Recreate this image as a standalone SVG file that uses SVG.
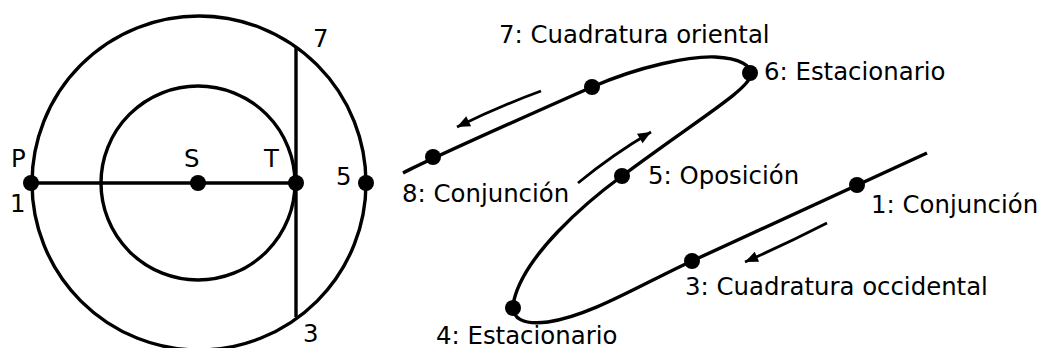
<svg xmlns="http://www.w3.org/2000/svg" width="1044" height="348" viewBox="0 0 1044 348">
<style>
.ln{fill:none;stroke:#000;stroke-width:3.4}
.ar{fill:none;stroke:#000;stroke-width:2.8}
.dot{fill:#000}
text{font-family:"DejaVu Sans","Liberation Sans",sans-serif;font-size:24.4px;fill:#000}
</style>
<defs>
<marker id="ah" markerUnits="userSpaceOnUse" markerWidth="16" markerHeight="14" viewBox="-1 -7 16 14" refX="13" refY="0" orient="auto">
<path d="M0,-5.5 L13,0 L0,5.5 z" fill="#000"/>
</marker>
</defs>
<rect width="1044" height="348" fill="#fff"/>
<g id="connectors">
<circle class="ln" cx="199" cy="183" r="167"/>
<circle class="ln" cx="198" cy="183" r="97"/>
<line class="ln" x1="31" y1="183" x2="296" y2="183"/>
<line class="ln" x1="296" y1="47" x2="296" y2="317"/>
<path class="ln" d="M403,173 C430,159 540,110 592,87 C640,66 690,56 715,57 C740,58 752,66 751,75 C748,90 700,118 622,176 C585,203 525,255 514,300 C509,320 525,325 548,322 C590,316 640,285 692,261 L927,153"/>
<path class="ar" d="M541,91 Q500,106 457,127" marker-end="url(#ah)"/>
<path class="ar" d="M578,183 Q612,155 651,132" marker-end="url(#ah)"/>
<path class="ar" d="M827,223 Q786,244 745,262" marker-end="url(#ah)"/>
</g>
<g id="node-P1"><circle class="dot" cx="31" cy="183" r="8"/><text x="11" y="167">P</text><text x="10" y="212">1</text></g>
<g id="node-S"><circle class="dot" cx="198" cy="183" r="8"/><text x="184" y="167">S</text></g>
<g id="node-T"><circle class="dot" cx="296" cy="183" r="8"/><text x="264" y="167">T</text></g>
<g id="node-5"><circle class="dot" cx="366" cy="183" r="8"/><text x="336" y="185">5</text></g>
<g id="node-7l"><text x="313" y="47">7</text></g>
<g id="node-3l"><text x="303" y="342">3</text></g>
<g id="node-8"><circle class="dot" cx="433" cy="157" r="8"/><text x="402" y="202">8: Conjunción</text></g>
<g id="node-7"><circle class="dot" cx="592" cy="87" r="8"/><text x="499" y="43">7: Cuadratura oriental</text></g>
<g id="node-6"><circle class="dot" cx="750" cy="73" r="8"/><text x="764" y="80">6: Estacionario</text></g>
<g id="node-5r"><circle class="dot" cx="622" cy="176" r="8"/><text x="648" y="184">5: Oposición</text></g>
<g id="node-4"><circle class="dot" cx="513" cy="308" r="8"/><text x="436" y="344">4: Estacionario</text></g>
<g id="node-3"><circle class="dot" cx="692" cy="261" r="8"/><text x="685" y="295">3: Cuadratura occidental</text></g>
<g id="node-1"><circle class="dot" cx="857" cy="185" r="8"/><text x="871" y="213">1: Conjunción</text></g>
</svg>
